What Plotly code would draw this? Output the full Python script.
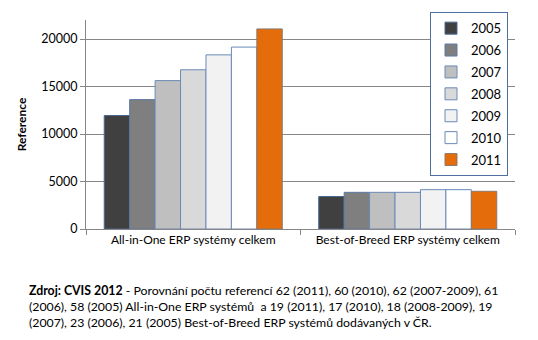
import plotly.graph_objects as go

categories = ["All-in-One ERP systémy celkem", "Best-of-Breed ERP systémy celkem"]
years = ["2005", "2006", "2007", "2008", "2009", "2010", "2011"]
values = {
    "2005": [11950, 3420],
    "2006": [13620, 3860],
    "2007": [15620, 3860],
    "2008": [16760, 3860],
    "2009": [18330, 4140],
    "2010": [19150, 4140],
    "2011": [21060, 3970],
}
y_ticks = [0, 5000, 10000, 15000, 20000]
y_ticktext = ["0", "5000", "10000", "15000", "20000"]
y_title = "Reference"
caption = ("<b>Zdroj: CVIS 2012</b> - Porovnání počtu referencí 62 (2011), 60 (2010), 62 (2007-2009), 61<br>"
           "(2006), 58 (2005) All-in-One ERP systémů  a 19 (2011), 17 (2010), 18 (2008-2009), 19<br>"
           "(2007), 23 (2006), 21 (2005) Best-of-Breed ERP systémů dodávaných v ČR.")

fill_colors = ["#404040", "#7f7f7f", "#bfbfbf", "#d9d9d9", "#f2f2f2", "#ffffff", "#e46c0a"]
line_colors = ["#4a6890", "#5a7aa8", "#6a8ab8", "#6a8ab8", "#6a8ab8", "#6a8ab8", "#8c7a70"]

FONT = "Lato"
fig = go.Figure()
for i, yr in enumerate(years):
    fig.add_trace(go.Bar(
        name=yr, x=categories, y=values[yr],
        marker=dict(color=fill_colors[i], line=dict(color=line_colors[i], width=1)),
        legendgroup=yr,
    ))

fig.update_layout(
    width=538, height=340,
    margin=dict(l=86, r=23, t=15, b=111),
    paper_bgcolor="white", plot_bgcolor="white",
    barmode="group", bargap=0.17, bargroupgap=0,
    font=dict(family=FONT, size=12, color="black"),
    showlegend=True,
    legend=dict(
        x=1.0 - 7/429, xanchor="right", y=1 + 8/214, yanchor="top",
        bordercolor="#4f6fa0", borderwidth=1, bgcolor="white",
        font=dict(family=FONT, size=13, color="black"),
        itemwidth=30, traceorder="grouped", tracegroupgap=2,
        maxheight=320,
    ),
    xaxis=dict(
        showline=True, linecolor="#868686", linewidth=1,
        ticks="outside", tickson="boundaries", ticklen=5, tickcolor="#868686",
        showgrid=False, tickfont=dict(size=12),
    ),
    yaxis=dict(
        range=[0, 22000], tickvals=y_ticks, ticktext=y_ticktext,
        showline=True, linecolor="#868686", linewidth=1,
        ticks="outside", ticklen=5, tickcolor="#868686",
        showgrid=True, gridcolor="#868686", gridwidth=1,
        zeroline=False,
        title=dict(text="<b>" + y_title + "</b>", standoff=12, font=dict(size=12)),
        tickfont=dict(size=12.5),
    ),
    annotations=[dict(
        text=caption, xref="paper", yref="paper",
        x=(27 - 86) / 429, y=(229 - 282) / 214, xanchor="left", yanchor="top",
        align="left", showarrow=False, font=dict(family=FONT, size=12.3, color="black"),
    )],
)

fig.write_html("out.html")
